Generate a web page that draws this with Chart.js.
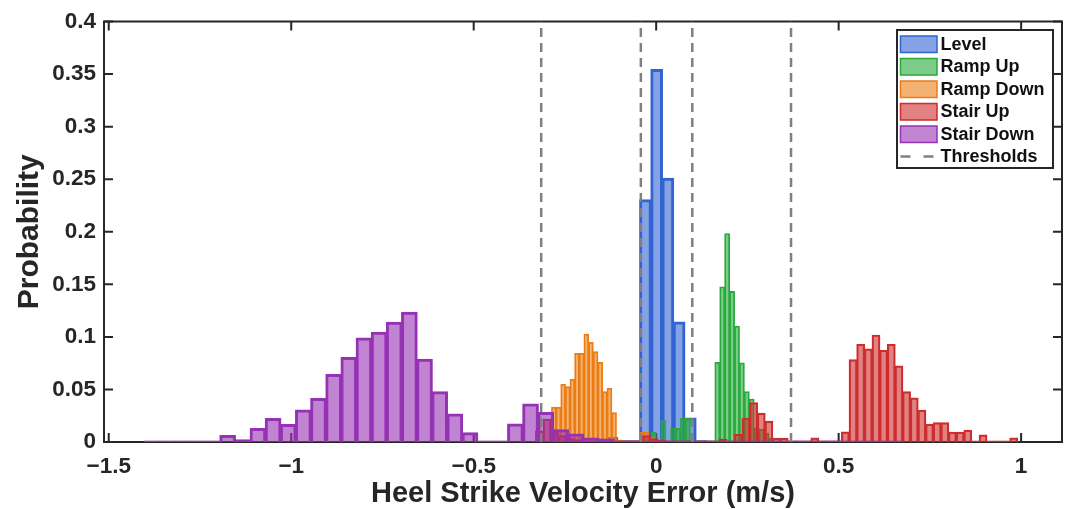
<!DOCTYPE html>
<html>
<head>
<meta charset="utf-8">
<script src="https://cdn.jsdelivr.net/npm/chart.js@4.4.1/dist/chart.umd.min.js"></script>
<style>
  html, body { margin: 0; padding: 0; background: #fff; }
  #wrap { width: 1069px; height: 509px; }
</style>
</head>
<body>
<div id="wrap"><canvas id="histChart" width="1069" height="509"></canvas></div>
<script>
// histogram bins: first bin edge, bin width and probability per bin
const seriesNames = ['Level', 'Ramp Up', 'Ramp Down', 'Stair Up', 'Stair Down'];

const levelStart = -0.1368, levelWidth = 0.0307;
const levelProb = [0.004, 0.001, 0.001, 0.2301, 0.354, 0.2507, 0.114, 0.0225, 0.001];

const rampUpStart = -0.014, rampUpWidth = 0.01345;
const rampUpProb = [0.009, 0.001, 0.0202, 0.001, 0.013, 0.013, 0.0225, 0.0225, 0.001, 0.001,
  0.001, 0.001, 0.001, 0.0757, 0.1475, 0.1982, 0.1431, 0.1102, 0.0753, 0.0478,
  0.0408, 0.013, 0.012, 0.0083, 0.0035, 0.001];

const rampDownStart = -0.2867, rampDownWidth = 0.0127;
const rampDownProb = [0.033, 0.033, 0.0548, 0.0525, 0.0595, 0.0842, 0.0842, 0.1026, 0.0947, 0.0858,
  0.0757, 0.0478, 0.051, 0.0278, 0.002, 0.001, 0.001, 0.001, 0.001, 0.0092,
  0.0092, 0.004, 0.002, 0.001];

const stairUpStart = -0.3304, stairUpWidth = 0.02096;
const stairUpProb = [0.0104, 0.0216, 0.0095, 0.006, 0.003, 0.002, 0.001, 0.001, 0.001, 0.001,
  0.001, 0.001, 0.001, 0.001, 0.006, 0.003, 0.0015, 0.001, 0.001, 0.001,
  0.001, 0.001, 0.001, 0.001, 0.0026, 0.001, 0.0073, 0.0225, 0.0373, 0.0273,
  0.0197, 0.0035, 0.0035, 0.001, 0.001, 0.001, 0.0038, 0.001, 0.001, 0.001,
  0.0095, 0.0782, 0.0928, 0.0883, 0.1016, 0.0871, 0.0928, 0.0722, 0.0478, 0.0418,
  0.0301, 0.0168, 0.0183, 0.0183, 0.0092, 0.0092, 0.0111, 0.001, 0.0066, 0.001,
  0.001, 0.001, 0.0038];

const stairDownStart = -1.4025, stairDownWidth = 0.0415;
const stairDownProb = [0.0008, 0.0008, 0.0008, 0.0008, 0.0008, 0.006, 0.0019, 0.0126, 0.0221, 0.0164,
  0.0301, 0.0411, 0.0639, 0.0801, 0.0988, 0.1042, 0.1137, 0.1232, 0.0785, 0.0475,
  0.0263, 0.0085, 0.0008, 0.0008, 0.0168, 0.0358, 0.0278, 0.0114, 0.0073, 0.0035,
  0.0025, 0.0008, 0.0008, 0.0008, 0.0008, 0.0008, 0.0008, 0.0008, 0.0008, 0.0008,
  0.0008, 0.0008, 0.0008, 0.0008, 0.0008, 0.0008, 0.0008, 0.0008, 0.0008, 0.0008];

const thresholds = [-0.315, -0.042, 0.099, 0.3695];

const xTicks = [-1.5, -1, -0.5, 0, 0.5, 1];
const xTickLabels = ['\u22121.5', '\u22121', '\u22120.5', '0', '0.5', '1'];
const yTicks = [0, 0.05, 0.1, 0.15, 0.2, 0.25, 0.3, 0.35, 0.4];
const yTickLabels = ['0', '0.05', '0.1', '0.15', '0.2', '0.25', '0.3', '0.35', '0.4'];

// styles
const edgeColors = ['rgb(50,100,210)', 'rgb(40,170,60)', 'rgb(235,125,20)', 'rgb(205,45,45)', 'rgb(150,50,180)'];
const fillColors = ['rgba(50,100,210,0.6)', 'rgba(40,170,60,0.6)', 'rgba(235,125,20,0.6)', 'rgba(205,45,45,0.6)', 'rgba(150,50,180,0.6)'];
const edgeWidths = [1.5, 0.9, 0.9, 1.1, 1.5];
const FONT = 'Liberation Sans, Arial, Helvetica, sans-serif';
const AXIS_COLOR = '#262626';
const X_MIN = -1.513, X_MAX = 1.112;

function binPoints(start, width, probs) {
  return probs.map((p, i) => ({ x: start + (i + 0.5) * width, y: p }));
}

function setXTicks(scale) {
  scale.ticks = xTicks.map(v => ({ value: v }));
}

// every histogram gets its own (hidden) x axis so Chart.js sizes its bars from its own bin width
function hiddenX() {
  return {
    type: 'linear', display: false, offset: false, grid: { offset: false },
    min: X_MIN, max: X_MAX, afterBuildTicks: setXTicks
  };
}

const bins = [
  binPoints(levelStart, levelWidth, levelProb),
  binPoints(rampUpStart, rampUpWidth, rampUpProb),
  binPoints(rampDownStart, rampDownWidth, rampDownProb),
  binPoints(stairUpStart, stairUpWidth, stairUpProb),
  binPoints(stairDownStart, stairDownWidth, stairDownProb)
];
const axisIds = ['xLevel', 'xRampUp', 'xRampDown', 'xStairUp', 'xStairDown'];

const datasets = bins.map((pts, i) => ({
  type: 'bar',
  label: seriesNames[i],
  data: pts,
  xAxisID: axisIds[i],
  backgroundColor: fillColors[i],
  borderColor: edgeColors[i],
  borderWidth: edgeWidths[i],
  inflateAmount: edgeWidths[i] / 2,
  barPercentage: 1,
  categoryPercentage: 1,
  grouped: false,
  order: 5 - i
}));

datasets.push({
  type: 'line',
  label: 'Thresholds',
  data: thresholds.flatMap(t => [{ x: t, y: 0 }, { x: t, y: 0.4 }, { x: t, y: null }]),
  xAxisID: 'x',
  borderColor: 'rgb(128,128,128)',
  borderWidth: 2.5,
  borderDash: [9, 6],
  pointRadius: 0,
  fill: false,
  spanGaps: false,
  order: 0
});

const framePlugin = {
  id: 'frame',
  beforeDatasetsDraw(chart) {
    const { ctx, chartArea: a, scales } = chart;
    const len = 9;
    ctx.save();
    ctx.strokeStyle = AXIS_COLOR;
    ctx.lineWidth = 2;
    ctx.strokeRect(a.left, a.top, a.right - a.left, a.bottom - a.top);
    ctx.beginPath();
    xTicks.forEach(v => {
      const px = scales.x.getPixelForValue(v);
      ctx.moveTo(px, a.bottom); ctx.lineTo(px, a.bottom - len);
      ctx.moveTo(px, a.top); ctx.lineTo(px, a.top + len);
    });
    yTicks.forEach(v => {
      const py = scales.y.getPixelForValue(v);
      ctx.moveTo(a.left, py); ctx.lineTo(a.left + len, py);
      ctx.moveTo(a.right, py); ctx.lineTo(a.right - len, py);
    });
    ctx.stroke();
    ctx.restore();
  }
};

const legendPlugin = {
  id: 'boxLegend',
  afterDraw(chart) {
    const { ctx, chartArea: a } = chart;
    const w = 156, h = 138;
    const bx = a.right - 9 - w, by = a.top + 8.5;
    const rowH = 22.5;
    ctx.save();
    ctx.fillStyle = '#fff';
    ctx.fillRect(bx, by, w, h);
    ctx.strokeStyle = AXIS_COLOR;
    ctx.lineWidth = 2;
    ctx.strokeRect(bx, by, w, h);
    ctx.font = 'bold 18px ' + FONT;
    ctx.textBaseline = 'middle';
    chart.data.datasets.forEach((ds, i) => {
      const cy = by + 14 + i * rowH;
      if (ds.type === 'bar') {
        ctx.fillStyle = ds.backgroundColor;
        ctx.fillRect(bx + 3.5, cy - 8, 36.5, 16.5);
        ctx.strokeStyle = ds.borderColor;
        ctx.lineWidth = 1.5;
        ctx.strokeRect(bx + 3.5, cy - 8, 36.5, 16.5);
      } else {
        ctx.strokeStyle = ds.borderColor;
        ctx.lineWidth = 2.5;
        ctx.setLineDash([10, 13]);
        ctx.beginPath();
        ctx.moveTo(bx + 3.5, cy); ctx.lineTo(bx + 40, cy);
        ctx.stroke();
        ctx.setLineDash([]);
      }
      ctx.fillStyle = '#111';
      ctx.fillText(ds.label, bx + 43.5, cy + 1);
    });
    ctx.restore();
  }
};

const scales = {
  x: {
    type: 'linear', position: 'bottom', min: X_MIN, max: X_MAX, offset: false,
    afterBuildTicks: setXTicks,
    afterFit: s => { s.height = 67; },
    grid: { display: false, drawTicks: false, offset: false },
    border: { display: false },
    ticks: {
      callback: (v, i) => xTickLabels[i],
      font: { family: FONT, size: 22.5, weight: 'bold' },
      color: AXIS_COLOR, padding: 11, maxRotation: 0, autoSkip: false
    },
    title: {
      display: true, text: 'Heel Strike Velocity Error (m/s)',
      font: { family: FONT, size: 29, weight: 'bold' },
      color: AXIS_COLOR, padding: { top: 0, bottom: -2 }
    }
  },
  y: {
    type: 'linear', position: 'left', min: 0, max: 0.4,
    afterBuildTicks: s => { s.ticks = yTicks.map(v => ({ value: v })); },
    afterFit: s => { s.width = 104; },
    grid: { display: false, drawTicks: false },
    border: { display: false },
    ticks: {
      callback: (v, i) => yTickLabels[i],
      font: { family: FONT, size: 22.5, weight: 'bold' },
      color: AXIS_COLOR, padding: 8, autoSkip: false
    },
    title: {
      display: true, text: 'Probability',
      font: { family: FONT, size: 30, weight: 'bold' },
      color: AXIS_COLOR, padding: { top: 12, bottom: 0 }
    }
  }
};
axisIds.forEach(id => { scales[id] = hiddenX(); });

new Chart(document.getElementById('histChart'), {
  data: { datasets: datasets },
  options: {
    responsive: false,
    animation: false,
    devicePixelRatio: 1,
    layout: { padding: { left: 0, top: 21, right: 7, bottom: 0 } },
    plugins: { legend: { display: false }, tooltip: { enabled: false } },
    scales: scales
  },
  plugins: [framePlugin, legendPlugin]
});
</script>
</body>
</html>
